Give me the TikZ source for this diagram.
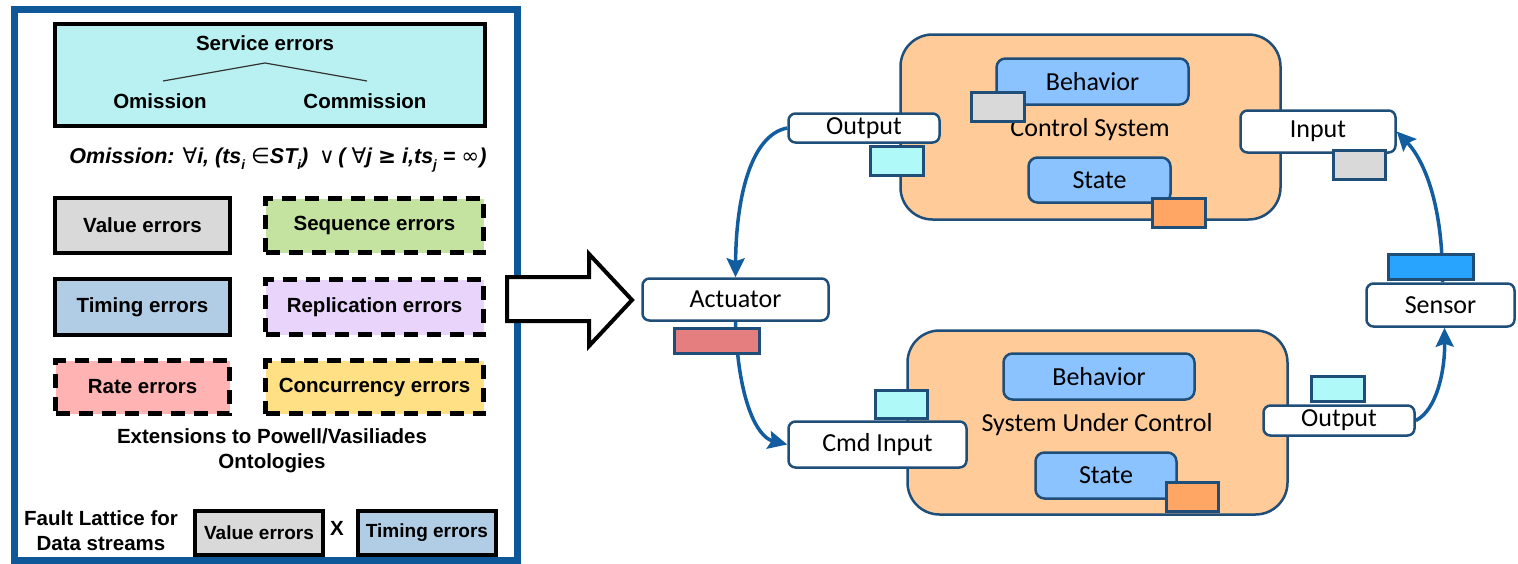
\documentclass[tikz,border=0pt]{standalone}
\usepackage{fontspec}
\setmainfont{Liberation Sans}
\newfontfamily\calfont{Carlito}
\newfontfamily\symf{DejaVu Sans}
\usetikzlibrary{arrows.meta,calc}

\definecolor{frameblue}{HTML}{0E5799}
\definecolor{bordblue}{HTML}{1F4E79}
\definecolor{flowblue}{HTML}{115D9F}
\definecolor{svccyan}{HTML}{B9F1F2}
\definecolor{errgray}{HTML}{D9D9D9}
\definecolor{errgreen}{HTML}{C4E3A0}
\definecolor{errblue}{HTML}{B1CCE5}
\definecolor{errlilac}{HTML}{E9D5FC}
\definecolor{errpink}{HTML}{FFB3B3}
\definecolor{erryellow}{HTML}{FFE084}
\definecolor{peach}{HTML}{FFCC99}
\definecolor{compblue}{HTML}{8AC3FF}
\definecolor{tagcyan}{HTML}{AFF9F9}
\definecolor{tagorange}{HTML}{FFA664}
\definecolor{tagred}{HTML}{E57F7F}
\definecolor{tagblue}{HTML}{28A4FF}

\newcommand\lowsub[1]{\raisebox{-0.28em}{\fontsize{13.5}{13.5}\selectfont #1}}
\newcommand\thinsym[1]{{\symf\mdseries #1}}

\tikzset{
  errtext/.style={font={\bfseries\fontsize{20.5}{25}\selectfont}},
  errsolid/.style={errtext, draw=black, line width=4.5pt, inner sep=0pt},
  errdash/.style={errsolid, line width=5pt, dash pattern=on 14pt off 9pt},
  caltext/.style={font={\calfont\fontsize{26}{30}\selectfont}},
  port/.style={caltext, draw=bordblue, line width=2.5pt, rounded corners=7pt, fill=white, inner sep=0pt},
  comp/.style={caltext, draw=bordblue, line width=2.5pt, rounded corners=9pt, fill=compblue, inner sep=0pt},
  sysbox/.style={draw=bordblue, line width=2.5pt, rounded corners=32pt, fill=peach, inner sep=0pt},
  tag/.style={draw=bordblue, line width=2.5pt, inner sep=0pt, minimum width=53pt, minimum height=29pt},
  flow/.style={draw=flowblue, line width=3.5pt, -{Stealth[length=19pt,width=18pt,inset=3pt]}}
}

\begin{document}
\begin{tikzpicture}[x=1pt,y=-1pt]
\useasboundingbox (0,0) rectangle (1518,563);

% ---------- error ontology panel ----------
\draw[frameblue, line width=7pt] (14,9) rectangle (517,560);

\node[errsolid, fill=svccyan, minimum width=430pt, minimum height=102pt] (svc) at (270,75) {};
\node[errtext] (svct) at (265,43) {Service errors};
\node[errtext] (om) at (160,101) {Omission};
\node[errtext] (com) at (365,101) {Commission};
\draw[line width=1.2pt, black!80] (163,81) -- (265,63) -- (367,81);

\node[font={\bfseries\itshape\fontsize{21.5}{25}\selectfont}] (formula) at (278,160)
  {Omission: \thinsym{∀}i, (ts\lowsub{i} \thinsym{∈}ST\lowsub{i})\enspace\thinsym{∨}\,( \thinsym{∀}j {\symf ≥} i,ts\lowsub{j} = \thinsym{∞})};

\node[errsolid, fill=errgray,   minimum width=175pt, minimum height=55pt] (value)  at (142.5,225.5) {Value errors};
\node[errdash,  fill=errgreen,  minimum width=218pt, minimum height=54pt] (seq)    at (374.5,225.5) {Sequence errors};
\node[errsolid, fill=errblue,   minimum width=175pt, minimum height=56pt] (timing) at (142.5,307) {Timing errors};
\node[errdash,  fill=errlilac,  minimum width=218pt, minimum height=55pt] (repl)   at (374.5,307) {Replication errors};
\node[errdash,  fill=errpink,   minimum width=174pt, minimum height=53pt] (rate)   at (142.5,387) {Rate errors};
\node[errdash,  fill=erryellow, minimum width=218pt, minimum height=53pt] (conc)   at (374.5,387) {Concurrency errors};

\node[errtext, align=center] (ext) at (272,451) {Extensions to Powell/Vasiliades\\Ontologies};

\node[errtext, align=center] (fault) at (101,531) {Fault Lattice for\\Data streams};
\node[errsolid, fill=errgray, minimum width=128pt, minimum height=44pt, font={\bfseries\fontsize{19}{23}\selectfont}] (value2) at (259,533) {Value errors};
\node[errtext] (times) at (337,528) {X};
\node[errsolid, fill=errblue, minimum width=138pt, minimum height=44pt, font={\bfseries\fontsize{19}{23}\selectfont}] (timing2) at (427,533) {Timing errors};

% ---------- transition arrow ----------
\draw[black, line width=4pt, fill=white]
  (507,277) -- (589,277) -- (589,254) -- (632,300) -- (589,346) -- (589,321) -- (507,321) -- cycle;

% ---------- control loop ----------
\node[sysbox, minimum width=380pt, minimum height=185pt] (cs) at (1090.5,127) {};
\node[caltext] (csl) at (1090,130) {Control System};
\node[comp, minimum width=192pt, minimum height=46pt] (beh1) at (1092.5,81.5) {Behavior};
\node[tag, fill=errgray] (gray1) at (998,107) {};
\node[comp, minimum width=142pt, minimum height=45pt] (state1) at (1099.5,180) {State};
\node[tag, fill=tagorange] (orange1) at (1179,213) {};
\node[port, minimum width=151pt, minimum height=29pt] (out1) at (864,128) {Output};
\node[tag, fill=tagcyan] (cyan1) at (897,161) {};
\node[port, minimum width=155pt, minimum height=42pt] (in1) at (1318,131.5) {Input};
\node[tag, fill=errgray, minimum width=52pt] (gray2) at (1359.5,165) {};

\node[sysbox, minimum width=380pt, minimum height=184pt] (suc) at (1097.5,422.5) {};
\node[caltext] (sucl) at (1097,425) {System Under Control};
\node[comp, minimum width=191pt, minimum height=46pt] (beh2) at (1099,376.5) {Behavior};
\node[comp, minimum width=141pt, minimum height=46pt] (state2) at (1106,475.5) {State};
\node[tag, fill=tagorange, minimum width=52pt] (orange2) at (1192.5,497) {};
\node[port, minimum width=178pt, minimum height=46pt] (cmd) at (877.5,444.5) {Cmd Input};
\node[tag, fill=tagcyan, minimum width=52pt, minimum height=28pt] (cyan2) at (901.5,404.5) {};
\node[port, minimum width=151pt, minimum height=30pt] (out2) at (1339,420.5) {Output};
\node[tag, fill=tagcyan, minimum height=25pt] (cyan3) at (1338,389) {};

\node[port, minimum width=186pt, minimum height=42pt] (act) at (735.5,299.5) {Actuator};
\node[port, minimum width=148pt, minimum height=43pt] (sensor) at (1440.5,305) {Sensor};

% connectors
\draw[flow] (out1.west) .. controls (750,135) and (736,200) .. (act.north);
\draw[flow] (act.south) .. controls (738,400) and (757,437) .. (cmd.west);
\draw[flow] (out2.east) .. controls (1437,410) and (1445,370) .. ([xshift=4pt]sensor.south);
\draw[flow] ([xshift=2pt]sensor.north) .. controls (1443,200) and (1422,158) .. (in1.east);

% device tags drawn over the connector roots
\node[tag, fill=tagred, minimum width=85pt, minimum height=25pt] (red) at (717,341) {};
\node[tag, fill=tagblue, minimum width=85pt, minimum height=25pt] (blue1) at (1431,267) {};
\end{tikzpicture}
\end{document}
